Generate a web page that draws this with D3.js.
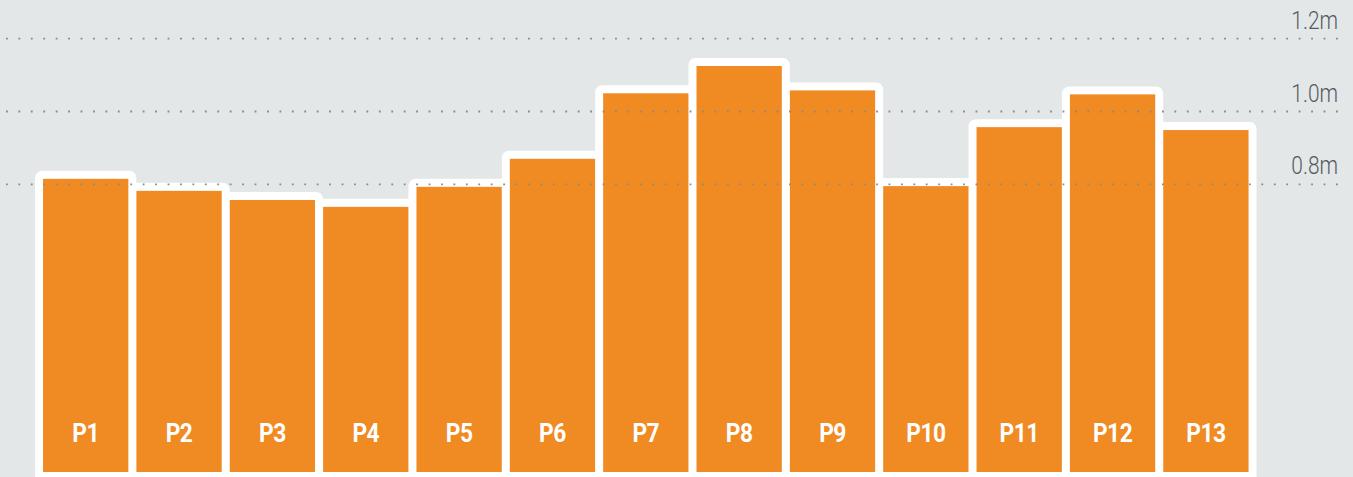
<!DOCTYPE html>
<html>
<head>
<meta charset="utf-8">
<script src="https://cdn.jsdelivr.net/npm/d3@7"></script>
<style>
html,body{margin:0;padding:0;background:#e3e7e8;overflow:hidden;}
svg{display:block;}
</style>
</head>
<body>
<svg id="chart" width="1353" height="477"></svg>
<script>
const categories = ["P1","P2","P3","P4","P5","P6","P7","P8","P9","P10","P11","P12","P13"];
const values = [0.815,0.782,0.757,0.738,0.793,0.870,1.050,1.125,1.058,0.795,0.957,1.047,0.949];
const tickValues = [0.8,1.0,1.2];
const tickLabels = ["0.8m","1.0m","1.2m"];

const W = 1353, H = 477;
const svg = d3.select("#chart");
svg.append("rect").attr("width",W).attr("height",H).attr("fill","#e3e7e8");

const x = d3.scaleBand().domain(categories).range([35,1256.6]).padding(0.0863);
const y = d3.scaleLinear().domain([0,1.2]).range([475.5,38.7]);

const data = categories.map((c,i)=>({c, v: values[i]}));
const border = 8;

// white outlines
svg.append("g").selectAll("rect").data(data).join("rect")
  .attr("x", d=>x(d.c)-border)
  .attr("y", d=>y(d.v)-border)
  .attr("width", x.bandwidth()+2*border)
  .attr("height", d=>y(0)-y(d.v)+2*border)
  .attr("rx",7).attr("ry",7)
  .attr("fill","#ffffff");

// orange bars
svg.append("g").selectAll("rect").data(data).join("rect")
  .attr("x", d=>x(d.c))
  .attr("y", d=>y(d.v))
  .attr("width", x.bandwidth())
  .attr("height", d=>y(0)-y(d.v)-3.5)
  .attr("fill","#f08a22");

// bar labels
svg.append("g").selectAll("text").data(data).join("text")
  .attr("transform", d=>`translate(${x(d.c)+x.bandwidth()/2},${y(0)-33.5}) scale(0.86,1)`)
  .attr("text-anchor","middle")
  .attr("fill","#ffffff")
  .style("font-family","Roboto,'DejaVu Sans',sans-serif")
  .style("font-weight","bold")
  .style("font-size","26.5px")
  .style("letter-spacing","-0.6px")
  .text(d=>d.c);

// dotted gridlines (on top)
const grid = svg.append("g");
grid.selectAll("line").data(tickValues).join("line")
  .attr("x1",6).attr("x2",1340)
  .attr("y1",d=>y(d)).attr("y2",d=>y(d))
  .attr("stroke","#8a8a8a")
  .attr("stroke-width",1.8)
  .attr("stroke-dasharray","1.8 10.63");

// axis labels
const axis = d3.axisRight(y).tickValues(tickValues).tickFormat((d,i)=>tickLabels[i]).tickSize(0);
const ag = svg.append("g").attr("transform","translate(1338,0)").call(axis);
ag.select(".domain").remove();
ag.selectAll(".tick text")
  .attr("x",null).attr("y",null).attr("dy",null)
  .attr("transform","translate(0,-10.5) scale(0.82,1)")
  .attr("text-anchor","end")
  .attr("fill","#555a5e")
  .style("font-family","Roboto,'DejaVu Sans',sans-serif")
  .style("font-weight","300")
  .style("font-size","25.5px");
</script>
</body>
</html>
